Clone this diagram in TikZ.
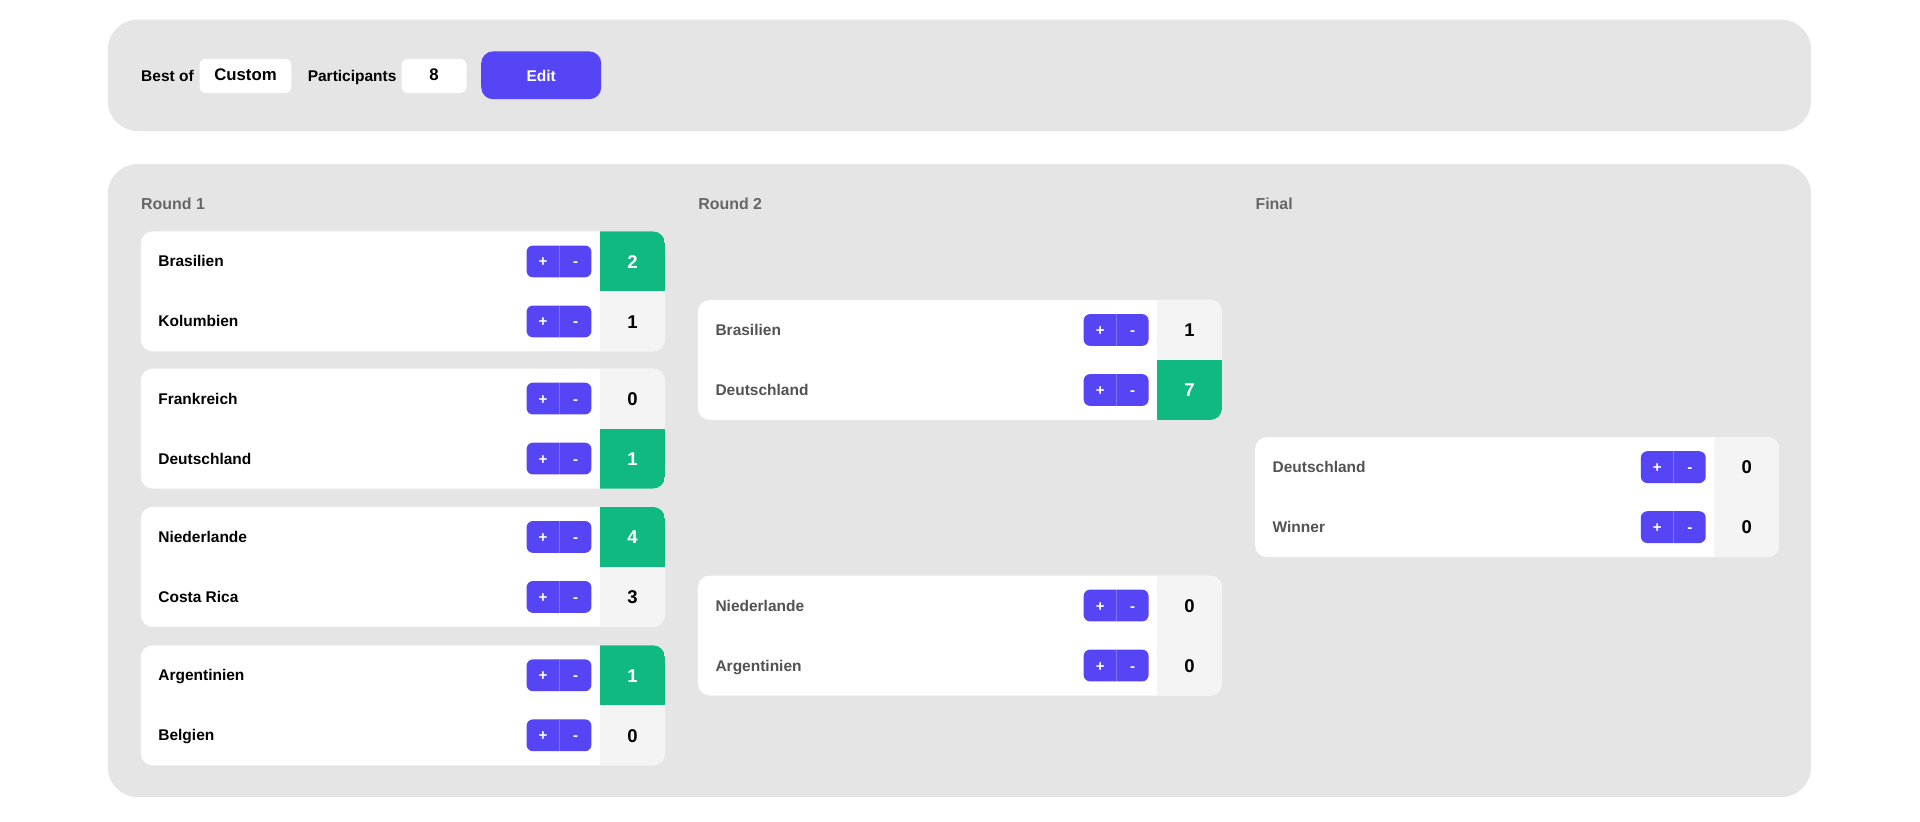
\documentclass[tikz,border=0pt]{standalone}
\usepackage{fontspec}
\setmainfont{Liberation Sans}
\begin{document}
\definecolor{panel}{HTML}{E5E5E5}
\definecolor{indi}{HTML}{5545F5}
\definecolor{divi}{HTML}{7F73F8}
\definecolor{grn}{HTML}{10B981}
\definecolor{scg}{HTML}{F4F4F4}
\definecolor{lbl}{HTML}{666666}
\tikzset{
 panelbox/.style={fill=panel,rounded corners=14pt},
 whitebox/.style={fill=white,rounded corners=3pt},
 card/.style={rounded corners=5.5pt},
 lab/.style={font=\bfseries\fontsize{7.2pt}{8pt}\selectfont,anchor=base west,inner sep=0},
 rlab/.style={font=\bfseries\fontsize{7.4pt}{8pt}\selectfont,anchor=base west,inner sep=0,text=lbl},
 score/.style={font=\bfseries\fontsize{8.6pt}{9pt}\selectfont,inner sep=0,anchor=base},
 btn/.style={fill=indi,rounded corners=3pt},
 btxt/.style={font=\bfseries\fontsize{7pt}{8pt}\selectfont,text=white,inner sep=0,anchor=base},
}
\newcommand\scorecell[5]{% x y score green name
  \ifnum#4=1 \fill[grn] (#1,#2) rectangle ++(53,49); \node[score,text=white] (#5) at ({#1+26.5},{#2+30}) {#3};
  \else \fill[scg] (#1,#2) rectangle ++(53,49); \node[score] (#5) at ({#1+26.5},{#2+30}) {#3};\fi}
\newcommand\buttons[3]{% x ycenter name
  \fill[btn] (#1,{#2-13}) rectangle ++(53,26);
  \draw[divi,line width=0.4pt] ({#1+27},{#2-13}) -- ({#1+27},{#2+13});
  \node[btxt] (#3p) at ({#1+13.5},{#2+4.5}) {+};
  \node[btxt] (#3m) at ({#1+40},{#2+4.5}) {-};}
\newcommand\matchbox[9]{% x y n1 s1 g1 n2 s2 g2 id
  \fill[white,card] (#1,#2) rectangle ++(428,98);
  \begin{scope}
   \clip[card] (#1,#2) rectangle ++(428,98);
   \scorecell{#1+375}{#2}{#4}{#5}{#9sa}
   \scorecell{#1+375}{#2+49}{#7}{#8}{#9sb}
  \end{scope}
  \node[lab,text=#9c] (#9na) at ({#1+14},{#2+29}) {#3};
  \node[lab,text=#9c] (#9nb) at ({#1+14},{#2+78}) {#6};
  \buttons{#1+315}{#2+24.5}{#9ba}
  \buttons{#1+315}{#2+73.5}{#9bb}}
\colorlet{ac}{black}\colorlet{bc}{black}\colorlet{cc}{black}\colorlet{dc}{black}
\colorlet{ec}{black!68}\colorlet{fc}{black!68}\colorlet{gc}{black!68}
\begin{tikzpicture}[x=0.02cm,y=-0.02cm]
\useasboundingbox (0,0) rectangle (1568,671);
\fill[white] (0,0) rectangle (1568,671);
% top panel
\fill[panelbox] (88,16) rectangle (1479,107);
\node[lab] (bestof) at (115,66.5) {Best of};
\fill[whitebox] (163,48) rectangle (238,76);
\node[lab,anchor=base,font=\bfseries\fontsize{7.8pt}{8pt}\selectfont] (custom) at (200.5,66) {Custom};
\node[lab] (parts) at (251,66.5) {Participants};
\fill[whitebox] (328,48) rectangle (381,76);
\node[lab,anchor=base,font=\bfseries\fontsize{7.8pt}{8pt}\selectfont] (eight) at (354.5,66) {8};
\fill[indi,rounded corners=5.5pt] (393,42) rectangle (491,81);
\node[lab,anchor=base,text=white] (edit) at (442,66.5) {Edit};
% main panel
\fill[panelbox] (88,134) rectangle (1479,651);
\node[rlab] (r1) at (115,171.5) {Round 1};
\node[rlab] (r2) at (570,171.5) {Round 2};
\node[rlab] (fin) at (1025,171.5) {Final};
\matchbox{115}{189}{Brasilien}{2}{1}{Kolumbien}{1}{0}{a}
\matchbox{115}{301}{Frankreich}{0}{0}{Deutschland}{1}{1}{b}
\matchbox{115}{414}{Niederlande}{4}{1}{Costa Rica}{3}{0}{c}
\matchbox{115}{527}{Argentinien}{1}{1}{Belgien}{0}{0}{d}
\matchbox{570}{245}{Brasilien}{1}{0}{Deutschland}{7}{1}{e}
\matchbox{570}{470}{Niederlande}{0}{0}{Argentinien}{0}{0}{f}
\matchbox{1025}{357}{Deutschland}{0}{0}{Winner}{0}{0}{g}
\end{tikzpicture}
\end{document}
